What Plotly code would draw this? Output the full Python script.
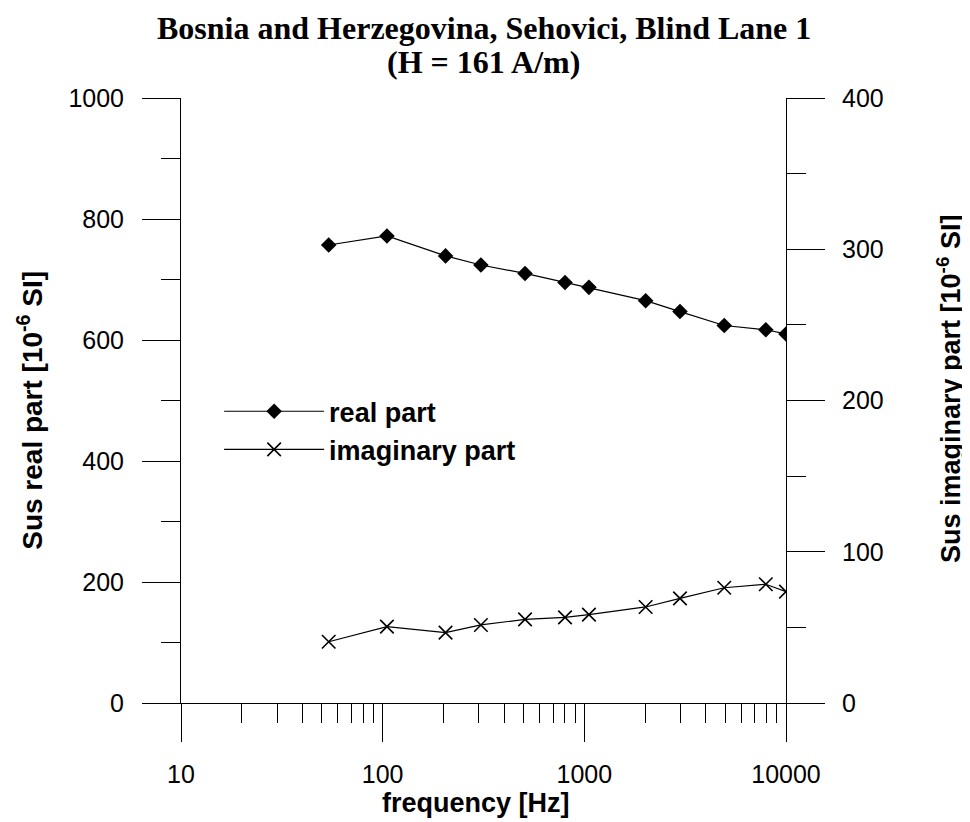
import plotly.graph_objects as go

# Data
freq_hz = [54, 105, 205, 307, 508, 802, 1054, 2014, 2980, 4940, 7940, 10000]
real_part = [757, 772, 739, 724, 710, 695, 687, 665, 647, 624, 617, 610]
imag_part = [40.5, 50.5, 46.5, 51.6, 55.3, 56.6, 58.4, 63.5, 69.2, 76.2, 78.5, 73.6]

x_major = [10, 100, 1000, 10000]
x_major_text = ["10", "100", "1000", "10000"]
x_minor = [m * d for d in (10, 100, 1000) for m in range(2, 10)]

title_line1 = "Bosnia and Herzegovina, Sehovici, Blind Lane 1"
title_line2 = "(H = 161 A/m)"
x_title = "frequency [Hz]"
y_left_title = "Sus real part [10<sup>-6</sup> SI]"
y_right_title = "Sus imaginary part [10<sup>-6</sup> SI]"

SANS = "Liberation Sans, Arial, sans-serif"
SERIF = "Liberation Serif, Times New Roman, serif"

fig = go.Figure()
fig.add_trace(go.Scatter(
    x=freq_hz, y=real_part, name="real part", mode="lines+markers",
    line=dict(color="black", width=1.2),
    marker=dict(symbol="diamond", size=12, color="black"),
    yaxis="y",
))
fig.add_trace(go.Scatter(
    x=freq_hz, y=imag_part, name="imaginary part", mode="lines+markers",
    line=dict(color="black", width=1.2),
    marker=dict(symbol="x-thin", size=13.5, color="black",
                line=dict(color="black", width=1.6)),
    yaxis="y2",
))

axis_common = dict(showgrid=False, zeroline=False, showline=True,
                   linecolor="black", linewidth=1, ticks="outside",
                   tickcolor="black", tickwidth=1, ticklen=38,
                   tickfont=dict(family=SANS, size=25, color="black"))

fig.update_layout(
    width=962, height=814,
    paper_bgcolor="white", plot_bgcolor="white",
    margin=dict(l=173, r=184, t=90, b=119),
    showlegend=True,
    legend=dict(x=0.063, y=0.522, xanchor="left", yanchor="top",
                bgcolor="rgba(0,0,0,0)", itemwidth=100,
                font=dict(family=SANS, size=27, color="black", weight="bold")),
    xaxis=dict(type="log", range=[1, 4], tickmode="array",
               tickvals=x_major, ticktext=x_major_text,
               ticklabelstandoff=11,
               minor=dict(tickmode="array", tickvals=x_minor, ticks="outside",
                          ticklen=19, tickcolor="black", tickwidth=1,
                          showgrid=False),
               **axis_common),
    yaxis=dict(range=[0, 1000], tickmode="linear", tick0=0, dtick=200,
               ticklabelstandoff=13,
               minor=dict(tickmode="linear", tick0=0, dtick=100, ticks="outside",
                          ticklen=19, tickcolor="black", tickwidth=1,
                          showgrid=False),
               **axis_common),
    yaxis2=dict(range=[0, 400], tickmode="linear", tick0=0, dtick=100,
                overlaying="y", side="right", anchor="x",
                ticklabelstandoff=12,
                minor=dict(tickmode="linear", tick0=0, dtick=50, ticks="outside",
                           ticklen=19, tickcolor="black", tickwidth=1,
                           showgrid=False),
                **axis_common),
    annotations=[
        dict(text="<b>" + title_line1 + "</b>", xref="paper", yref="paper",
             x=0.5, y=1.0, yshift=70, xanchor="center", yanchor="middle",
             showarrow=False, font=dict(family=SERIF, size=32, color="black")),
        dict(text="<b>" + title_line2 + "</b>", xref="paper", yref="paper",
             x=0.5, y=1.0, yshift=36, xanchor="center", yanchor="middle",
             showarrow=False, font=dict(family=SERIF, size=32, color="black")),
        dict(text="<b>" + x_title + "</b>", xref="paper", yref="paper",
             x=0.488, y=0, yshift=-100, xanchor="center", yanchor="middle",
             showarrow=False, font=dict(family=SANS, size=27, color="black")),
        dict(text="<b>" + y_left_title + "</b>", xref="paper", yref="paper",
             x=0, xshift=-151, y=0.483, xanchor="center", yanchor="middle",
             textangle=-90, showarrow=False,
             font=dict(family=SANS, size=28, color="black")),
        dict(text="<b>" + y_right_title + "</b>", xref="paper", yref="paper",
             x=1, xshift=163, y=0.519, xanchor="center", yanchor="middle",
             textangle=-90, showarrow=False,
             font=dict(family=SANS, size=27, color="black")),
    ],
)

fig.write_html("out.html")
